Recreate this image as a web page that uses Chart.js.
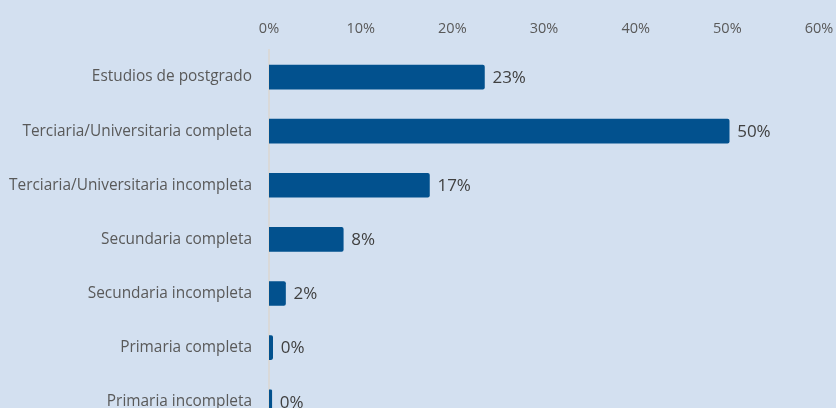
<!DOCTYPE html>
<html>
<head>
<meta charset="utf-8">
<script src="https://cdn.jsdelivr.net/npm/chart.js@4"></script>
<style>
  html, body { margin:0; padding:0; background:#d3e0f0; overflow:hidden; }
  #wrap { width:836px; height:408px; overflow:hidden; position:relative; }
  #box  { width:900px; height:447px; position:absolute; left:0; top:0; }
</style>
</head>
<body>
<div id="wrap"><div id="box"><canvas id="chart"></canvas></div></div>
<script>
// nivel educativo — porcentajes
const categories = [
  'Estudios de postgrado',
  'Terciaria/Universitaria completa',
  'Terciaria/Universitaria incompleta',
  'Secundaria completa',
  'Secundaria incompleta',
  'Primaria completa',
  'Primaria incompleta'
];
const values    = [23.5, 50.2, 17.5, 8.1, 1.8, 0.4, 0.3];
const valueText = ['23%', '50%', '17%', '8%', '2%', '0%', '0%'];
const xTicks    = [0, 10, 20, 30, 40, 50, 60];

const FONT = '"Open Sans", "Noto Sans", sans-serif';

// etiquetas al final de cada barra
const endLabels = {
  id: 'endLabels',
  afterDatasetsDraw(chart){
    const { ctx } = chart;
    const meta = chart.getDatasetMeta(0);
    ctx.save();
    ctx.font = '17px ' + FONT;
    ctx.fillStyle = '#404040';
    ctx.textAlign = 'left';
    ctx.textBaseline = 'middle';
    meta.data.forEach((bar, i)=>{
      ctx.fillText(valueText[i], bar.x + 8, bar.y + 1);
    });
    ctx.restore();
  }
};

new Chart(document.getElementById('chart'), {
  type: 'bar',
  data: {
    labels: categories,
    datasets: [{
      data: values,
      backgroundColor: '#02518e',
      borderRadius: 2,
      borderSkipped: 'start',
      barThickness: 24
    }]
  },
  options: {
    indexAxis: 'y',
    responsive: true,
    maintainAspectRatio: false,
    animation: false,
    layout: { padding: { left: 0, right: 81, top: 0, bottom: 13 } },
    plugins: { legend: { display:false }, tooltip: { enabled:false } },
    scales: {
      x: {
        position: 'top',
        min: 0, max: 60,
        afterBuildTicks: s => { s.ticks = xTicks.map(v => ({ value: v })); },
        afterFit: s => { s.height = 50; },
        grid: { display:false },
        border: { display:false },
        ticks: {
          color: '#595959',
          font: { family: FONT, size: 14.5 },
          padding: 4,
          callback: v => v + '%'
        }
      },
      y: {
        afterFit: s => { s.width = 269; },
        grid: { display:false },
        border: { display:true, color:'#d9d9d9', width:2 },
        ticks: {
          color: '#595959',
          font: { family: FONT, size: 15.4 },
          padding: 9
        }
      }
    }
  },
  plugins: [endLabels]
});
</script>
</body>
</html>
